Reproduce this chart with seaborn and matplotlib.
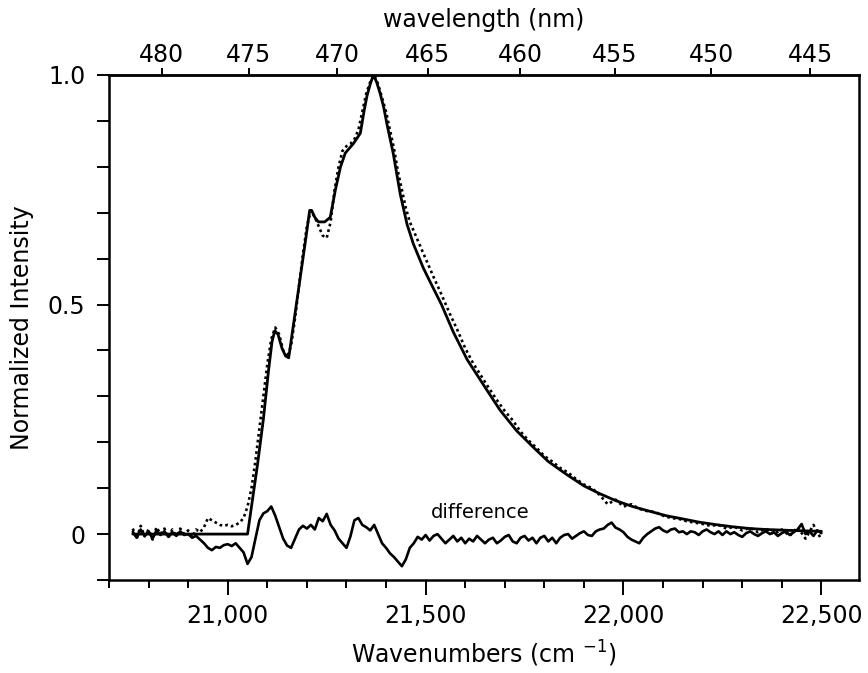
import numpy as np
import matplotlib
matplotlib.use('Agg')
import matplotlib.pyplot as plt
from matplotlib import ticker
import seaborn as sns

# fitted curve (solid)
fit_wn = [20760, 20850, 20950, 21050, 21060, 21075, 21090, 21103, 21112, 21119,
          21127, 21137, 21146, 21154, 21165, 21180, 21195, 21207, 21212, 21220,
          21229, 21245, 21259, 21272, 21285, 21297, 21317, 21335, 21345, 21352,
          21360, 21368, 21376, 21385, 21394, 21403, 21418, 21428, 21436, 21453,
          21469, 21494, 21511, 21540, 21570, 21605, 21650, 21688, 21730, 21771,
          21810, 21856, 21900, 21940, 21980, 22023, 22065, 22108, 22150, 22191,
          22230, 22275, 22320, 22360, 22420, 22500]
fit_val = [0.0, 0.0, 0.0, 0.0, 0.06, 0.15, 0.25, 0.356, 0.42, 0.443,
           0.435, 0.405, 0.388, 0.384, 0.45, 0.54, 0.63, 0.705, 0.705, 0.69,
           0.68, 0.68, 0.69, 0.75, 0.80, 0.83, 0.85, 0.873, 0.924, 0.955,
           0.98, 1.0, 0.985, 0.96, 0.93, 0.89, 0.83, 0.78, 0.74, 0.675,
           0.632, 0.58, 0.55, 0.50, 0.44, 0.38, 0.32, 0.27, 0.225, 0.19,
           0.158, 0.13, 0.105, 0.088, 0.073, 0.06, 0.05, 0.04, 0.033, 0.026,
           0.021, 0.016, 0.012, 0.01, 0.008, 0.006]

# measured spectrum (dotted)
data_wn = [20760, 20770, 20780, 20790, 20800, 20810, 20820, 20830, 20840, 20850,
           20860, 20870, 20880, 20890, 20900, 20910, 20920, 20930, 20940, 20950,
           20960, 20970, 20980, 20990, 21000, 21010, 21020, 21030, 21040, 21050,
           21060, 21070, 21080, 21090, 21100, 21110, 21120, 21130, 21140, 21150,
           21160, 21170, 21180, 21190, 21200, 21210, 21220, 21230, 21240, 21250,
           21260, 21270, 21280, 21290, 21300, 21310, 21320, 21330, 21340, 21350,
           21360, 21370, 21380, 21390, 21400, 21410, 21420, 21430, 21440, 21450,
           21460, 21480, 21500, 21520, 21540, 21560, 21580, 21600, 21620, 21640,
           21660, 21680, 21700, 21720, 21740, 21760, 21780, 21800, 21820, 21840,
           21860, 21880, 21900, 21920, 21940, 21960, 21980, 22000, 22020, 22040,
           22060, 22080, 22100, 22120, 22140, 22160, 22180, 22200, 22220, 22240,
           22260, 22280, 22300, 22320, 22340, 22360, 22380, 22400, 22420, 22440,
           22460, 22480, 22500]
data_val = [0.012, -0.01, 0.018, -0.005, 0.01, -0.012, 0.015, 0.0, 0.012, -0.008,
            0.01, -0.004, 0.012, 0.0, 0.008, -0.006, 0.01, 0.004, 0.015, 0.035,
            0.03, 0.025, 0.02, 0.018, 0.02, 0.017, 0.02, 0.025, 0.035, 0.06,
            0.1, 0.16, 0.23, 0.3, 0.37, 0.425, 0.45, 0.435, 0.4, 0.385,
            0.41, 0.47, 0.54, 0.61, 0.67, 0.705, 0.69, 0.67, 0.65, 0.645,
            0.68, 0.75, 0.8, 0.835, 0.845, 0.85, 0.86, 0.88, 0.92, 0.96,
            0.985, 1.0, 0.98, 0.95, 0.92, 0.88, 0.84, 0.79, 0.75, 0.71,
            0.68, 0.64, 0.6, 0.56, 0.522, 0.482, 0.445, 0.405, 0.372, 0.345,
            0.318, 0.292, 0.268, 0.248, 0.223, 0.204, 0.188, 0.17, 0.158, 0.144,
            0.134, 0.12, 0.108, 0.1, 0.085, 0.065, 0.075, 0.06, 0.065, 0.055,
            0.05, 0.048, 0.04, 0.035, 0.033, 0.028, 0.025, 0.022, 0.018, 0.02,
            0.012, 0.016, 0.008, 0.014, 0.004, 0.012, 0.0, 0.01, -0.004, 0.015,
            -0.01, 0.02, -0.012]

# difference trace, every 10 cm-1 from 20760 to 22500
diff_wn = np.arange(20760, 22501, 10)
diff_val = [0.005, -0.008, 0.01, -0.004, 0.006, -0.01, 0.008, -0.002, 0.006, -0.006,
            0.004, -0.004, 0.006, -0.002, 0.0, -0.008, -0.004, -0.012, -0.02, -0.03,
            -0.035, -0.028, -0.03, -0.024, -0.022, -0.026, -0.02, -0.03, -0.04, -0.065,
            -0.05, -0.01, 0.03, 0.045, 0.05, 0.06, 0.04, 0.015, -0.01, -0.025,
            -0.03, -0.01, 0.01, 0.018, 0.012, 0.02, 0.01, 0.035, 0.028, 0.044,
            0.02, 0.008, -0.01, -0.02, -0.03, -0.005, 0.03, 0.035, 0.02, 0.015,
            0.008, 0.02, 0.0, -0.02, -0.03, -0.042, -0.05, -0.06, -0.07, -0.055,
            -0.03, -0.02, -0.006, -0.012, -0.002, -0.014, -0.004, 0.0, -0.01, -0.02,
            -0.012, -0.004, -0.016, -0.008, -0.02, -0.01, -0.016, -0.004, -0.012, -0.02,
            -0.012, -0.008, -0.02, -0.014, -0.006, -0.002, -0.016, -0.02, -0.008, -0.004,
            -0.014, -0.008, -0.02, -0.008, -0.004, -0.016, -0.008, -0.02, -0.008, -0.002,
            0.0, -0.01, -0.004, 0.002, 0.006, -0.002, -0.004, 0.006, 0.01, 0.012,
            0.02, 0.025, 0.014, 0.01, 0.004, -0.006, -0.012, -0.016, -0.02, -0.008,
            0.0, 0.006, 0.012, 0.015, 0.008, 0.004, 0.01, 0.012, 0.004, 0.006,
            0.0, 0.006, 0.004, -0.002, 0.006, 0.01, 0.004, 0.0, 0.006, -0.002,
            0.006, 0.0, 0.004, -0.002, -0.006, 0.002, 0.006, 0.0, -0.004, 0.002,
            0.006, 0.0, 0.004, -0.004, 0.002, 0.006, -0.002, 0.004, 0.01, 0.022,
            0.0, 0.006, -0.004, 0.008, 0.002]

x_ticks = [21000, 21500, 22000, 22500]
y_ticks = [0, 0.5, 1.0]
y_ticklabels = ['0', '0.5', '1.0']
wl_ticks = [480, 475, 470, 465, 460, 455, 450, 445]


def wn_to_nm(x):
    x = np.asarray(x, dtype=float)
    with np.errstate(divide='ignore'):
        return 1e7 / x


sns.set_style('ticks')
plt.rcParams['font.family'] = ['DejaVu Sans']
plt.rcParams['text.color'] = 'black'
plt.rcParams['axes.labelcolor'] = 'black'

fig = plt.figure(figsize=(8.68, 6.73), dpi=100)
ax = fig.add_axes([0.1256, 0.1382, 0.8640, 0.7504])

sns.lineplot(x=data_wn, y=data_val, ax=ax, color='black', lw=1.9,
             linestyle=(0, (1, 1.2)), errorbar=None)
sns.lineplot(x=fit_wn, y=fit_val, ax=ax, color='black', lw=2.0, errorbar=None)
sns.lineplot(x=diff_wn, y=diff_val, ax=ax, color='black', lw=1.9, errorbar=None)

ax.text(21637, 0.046, 'difference', ha='center', va='center', fontsize=14)

ax.set_xlim(20700, 22595)
ax.set_ylim(-0.1, 1.0)
ax.set_xticks(x_ticks)
ax.xaxis.set_major_formatter(ticker.FuncFormatter(lambda v, p: f'{v:,.0f}'))
ax.xaxis.set_minor_locator(ticker.MultipleLocator(100))
ax.set_yticks(y_ticks, y_ticklabels)
ax.yaxis.set_minor_locator(ticker.MultipleLocator(0.1))

for s in ax.spines.values():
    s.set_linewidth(1.8)
    s.set_color('black')
    s.set_visible(True)

ax.tick_params(axis='both', which='both', direction='out', width=1.4,
               colors='black', labelsize=17, top=False, right=False)
ax.tick_params(axis='x', which='major', length=11, pad=6)
ax.tick_params(axis='x', which='minor', length=6)
ax.tick_params(axis='y', which='both', length=9, pad=8)

ax.set_xlabel('Wavenumbers (cm $^{-1}$)', fontsize=17, labelpad=8)
ax.set_ylabel('Normalized Intensity', fontsize=17, labelpad=10)

sec = ax.secondary_xaxis('top', functions=(wn_to_nm, wn_to_nm))
sec.set_xticks(wl_ticks)
sec.xaxis.set_minor_locator(ticker.NullLocator())
sec.tick_params(axis='x', direction='out', length=5, width=1.4, colors='black',
                labelsize=17, pad=1)
sec.spines['top'].set_linewidth(1.8)
sec.set_xlabel('wavelength (nm)', fontsize=17, labelpad=11)

fig.savefig('out.png', dpi=100, facecolor='white')
